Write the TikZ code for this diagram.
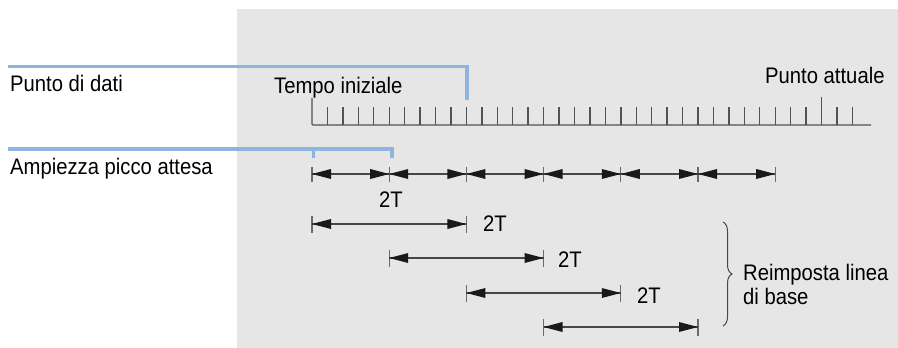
\documentclass[tikz,border=0pt]{standalone}
\usepackage{fontspec}
\setmainfont[FakeStretch=0.9]{Liberation Sans}
\usetikzlibrary{decorations.pathreplacing}
\definecolor{bg}{RGB}{230,230,230}
\definecolor{bl}{RGB}{143,180,226}
\definecolor{ink}{RGB}{25,25,25}
\begin{document}
\begin{tikzpicture}[x=1pt,y=-1pt,
  lbl/.style={anchor=base west,inner sep=0pt,font=\fontsize{22.5}{26}\selectfont,text=black},
  blueline/.style={draw=bl,line width=3.5pt},
  axis/.style={draw=ink!75,line width=1.4pt},
  dim/.style={draw=ink!80,line width=1.3pt},
  head/.style={fill=ink},
  bar/.style={draw=ink!65,line width=1.3pt}]
\useasboundingbox (0,0) rectangle (898,348);
\fill[bg] (237,9) rectangle (898,348);
% labels
\node[lbl] (pd) at (10,91) {Punto di dati};
\node[lbl] (ti) at (274,93) {Tempo iniziale};
\node[lbl] (pa) at (765,83) {Punto attuale};
\node[lbl] (ap) at (10,174) {Ampiezza picco attesa};
% blue lines
\coordinate (b1a) at (8,66.5);
\coordinate (b1b) at (467,66.5);
\coordinate (b1c) at (467,100);
\draw[blueline] (b1a) -- (b1b) -- (b1c);
\coordinate (b2a) at (8,149);
\coordinate (b2b) at (392,149);
\coordinate (b2c) at (392,158);
\coordinate (b2d) at (313.5,149);
\coordinate (b2e) at (313.5,158);
\draw[blueline] (b2a) -- (b2b) -- (b2c);
\draw[blueline] (b2d) -- (b2e);
% timeline
\coordinate (t0) at (312,98);
\coordinate (t1) at (312,125);
\coordinate (t2) at (871,125);
\draw[axis,rounded corners=1pt] (t0) -- (t1) -- (t2);
\foreach \k in {1,...,35}{
  \pgfmathsetmacro{\xx}{312+15.44*\k}
  \ifnum\k=33
    \draw[axis] (\xx,97) -- (\xx,125);
  \else
    \draw[axis] (\xx,107) -- (\xx,125);
  \fi
}
% row 1 segments
\foreach \i in {0,...,6}{
  \coordinate (r\i) at ({312+77.2*\i},174);
  \draw[bar] ({312+77.2*\i},166.5) -- ({312+77.2*\i},182);
}
\foreach \i [evaluate=\i as \j using int(\i+1)] in {0,...,5}{
  \draw[dim] (r\i) -- (r\j);
  \fill[head] (r\i) -- ++(19,-5) -- ++(0,10) -- cycle;
  \fill[head] (r\j) -- ++(-19,-5) -- ++(0,10) -- cycle;
}
\node[lbl] (t2a) at (379,207) {2T};
% rows 2-5
\foreach \n/\xa/\yy in {2/312/224, 3/389.2/258, 4/466.4/293, 5/543.6/327}{
  \coordinate (s\n a) at (\xa,\yy);
  \coordinate (s\n b) at (\xa+154.4,\yy);
  \draw[bar] (\xa,\yy-8.5) -- (\xa,\yy+8.5);
  \draw[bar] (\xa+154.4,\yy-8.5) -- (\xa+154.4,\yy+8.5);
  \draw[dim] (s\n a) -- (s\n b);
  \fill[head] (s\n a) -- ++(19,-5) -- ++(0,10) -- cycle;
  \fill[head] (s\n b) -- ++(-19,-5) -- ++(0,10) -- cycle;
}
\node[lbl] (t2b) at (483,231) {2T};
\node[lbl] (t2c) at (558,267) {2T};
\node[lbl] (t2d) at (637,303) {2T};
% brace
\coordinate (brT) at (723,222);
\coordinate (brB) at (723,326);
\draw[ink!80,line width=1pt,decorate,decoration={brace,amplitude=9pt}] (brT) -- (brB);
\node[lbl] (re1) at (743,280) {Reimposta linea};
\node[lbl] (re2) at (743,304) {di base};
\end{tikzpicture}
\end{document}
